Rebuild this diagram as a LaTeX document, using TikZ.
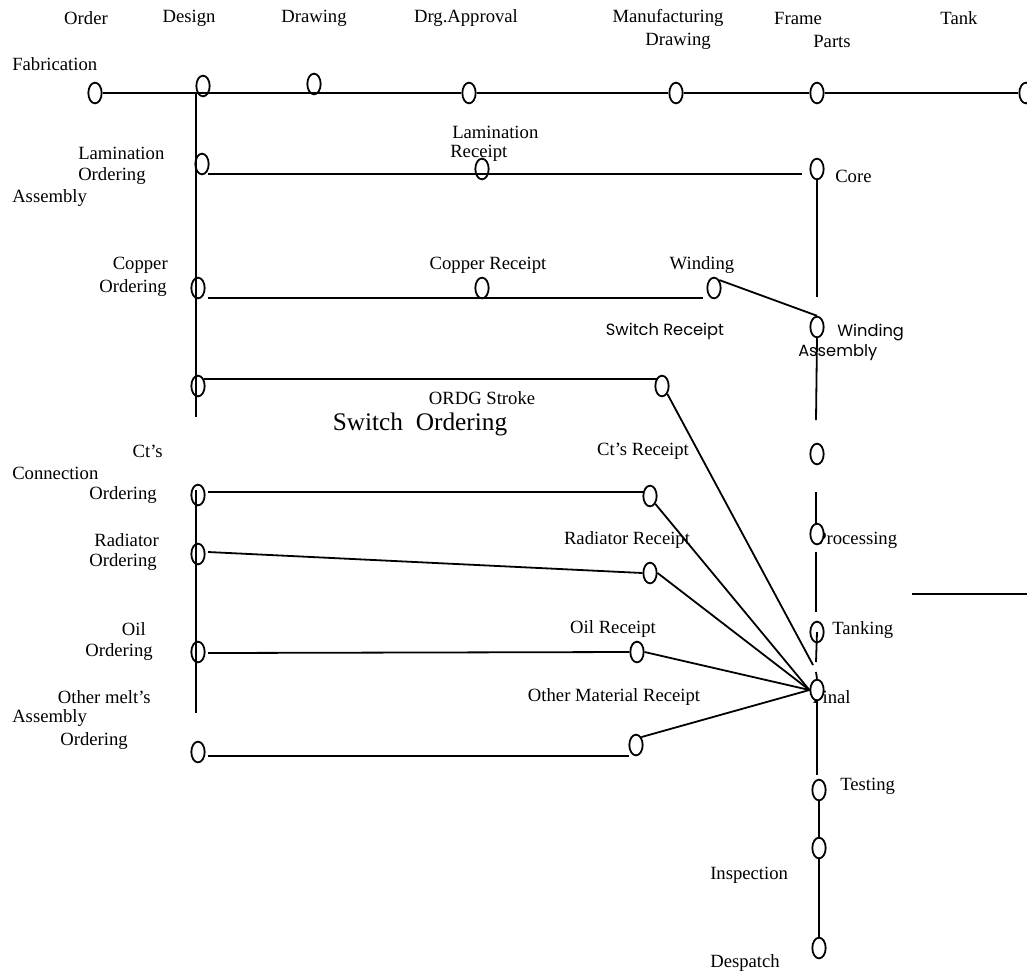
\documentclass[tikz,border=0pt]{standalone}
\usepackage{fontspec}
\setmainfont{Liberation Serif}
\newfontfamily\gothic{Poppins}
\usetikzlibrary{shapes.geometric}
\begin{document}
\begin{tikzpicture}[x=0.75pt,y=-0.75pt,
  ev/.style={ellipse,draw,line width=1.35pt,minimum width=10pt,minimum height=15.5pt,inner sep=0pt},
  evw/.style={ev,fill=white},
  ln/.style={line width=1.35pt},
  lbl/.style={inner sep=0pt,font=\fontsize{14}{16}\selectfont},
  big/.style={inner sep=0pt,font=\fontsize{19}{22}\selectfont},
  sns/.style={inner sep=0pt,font=\gothic\fontsize{12.2}{14}\selectfont}]
\useasboundingbox (0,0) rectangle (1027,972);

% ---------- labels ----------
\node[lbl] (tOrder) at (86,18) {Order};
\node[lbl] (tDesign) at (189,18) {Design};
\node[lbl] (tDrawing) at (314,18) {Drawing};
\node[lbl] (tDrg) at (466,18) {Drg.Approval};
\node[lbl] (tMfg1) at (668,18) {Manufacturing};
\node[lbl] (tMfg2) at (678,41) {Drawing};
\node[lbl] (tFrame) at (798,18) {Frame};
\node[lbl] (tParts) at (832,41) {Parts};
\node[lbl] (tTank) at (959,18) {Tank};
\node[lbl,anchor=west] (tFab) at (12,64) {Fabrication};
\node[lbl,anchor=west] (tLam1) at (78,153) {Lamination};
\node[lbl,anchor=west] (tLam2) at (78,176) {Ordering};
\node[lbl,anchor=west] (tAsm1) at (12,198) {Assembly};
\node[lbl,anchor=west] (tLR1) at (452,132) {Lamination};
\node[lbl,anchor=west] (tLR2) at (450,153) {Receipt};
\node[lbl,anchor=west] (tCore) at (835,176) {Core};
\node[lbl,anchor=east] (tCu1) at (168,265) {Copper};
\node[lbl,anchor=east] (tCu2) at (167,288) {Ordering};
\node[lbl] (tCuR) at (488,265) {Copper Receipt};
\node[lbl] (tWind) at (702,265) {Winding};
\node[sns] (tSwR) at (665,331) {Switch Receipt};
\node[sns,anchor=west] (tWA1) at (837,332) {Winding};
\node[sns,anchor=west] (tWA2) at (798,353) {Assembly};
\node[lbl] (tORDG) at (482,398) {ORDG Stroke};
\node[big] (tSwO) at (420,424) {Switch\ \ Ordering};
\node[lbl,anchor=east] (tCt1) at (163,451) {Ct’s};
\node[lbl,anchor=west] (tCt2) at (12,473) {Connection};
\node[lbl,anchor=east] (tCt3) at (157,495) {Ordering};
\node[lbl] (tCtR) at (643,451) {Ct’s Receipt};
\node[lbl,anchor=east] (tRad1) at (159,540) {Radiator};
\node[lbl,anchor=east] (tRad2) at (157,562) {Ordering};
\node[lbl] (tRadR) at (627,540) {Radiator Receipt};
\node[lbl,anchor=east] (tOil1) at (146,629) {Oil};
\node[lbl,anchor=east] (tOil2) at (153,652) {Ordering};
\node[lbl] (tOilR) at (613,629) {Oil Receipt};
\node[lbl,anchor=east] (tOth1) at (151,697) {Other melt’s};
\node[lbl,anchor=west] (tOth2) at (12,718) {Assembly};
\node[lbl,anchor=east] (tOth3) at (128,741) {Ordering};
\node[lbl] (tOthR) at (614,697) {Other Material Receipt};
\node[lbl,anchor=west] (tProc) at (816,540) {Processing};
\node[lbl,anchor=west] (tTankg) at (832,630) {Tanking};
\node[lbl,anchor=west] (tFinal) at (812,697) {Final};
\node[lbl,anchor=west] (tTest) at (840,786) {Testing};
\node[lbl,anchor=west] (tInsp) at (710,875) {Inspection};
\node[lbl,anchor=west] (tDesp) at (710,963) {Despatch};

% ---------- events ----------
\node[ev] (cOrder) at (95,93) {};
\node[ev] (cDesign) at (203,86) {};
\node[ev] (cDrawing) at (314,84) {};
\node[ev] (cDrg) at (469,93) {};
\node[ev] (cMfg) at (676,93) {};
\node[ev] (cFrame) at (817,93) {};
\node[ev] (cTank) at (1026,93) {};
\node[ev] (cLamO) at (202,164) {};
\node[ev] (cLamR) at (482,169) {};
\node[ev] (cCore) at (817,169) {};
\node[ev] (cCuO) at (198,288) {};
\node[ev] (cCuR) at (482,288) {};
\node[ev] (cWind) at (714,288) {};
\node[ev] (cWA) at (817,327) {};
\node[ev] (cSwO) at (198,386) {};
\node[ev] (cORDG) at (662,386) {};
\node[ev] (cMid) at (817,454) {};
\node[ev] (cCtO) at (198,495) {};
\node[ev] (cCtR) at (650,496) {};
\node[ev] (cRadO) at (198,554) {};
\node[ev] (cRadR) at (650,573) {};
\node[ev] (cOilO) at (198,652) {};
\node[ev] (cOilR) at (637,652) {};
\node[ev] (cOthO) at (198,752) {};
\node[ev] (cOthR) at (636,745) {};
\node[evw] (cProc) at (817,534) {};
\node[ev] (cTankg) at (817,632) {};
\node[evw] (cFinal) at (817,690) {};
\node[ev] (cTest) at (819,790) {};
\node[ev] (cInsp) at (819,848) {};
\node[ev] (cDesp) at (819,948) {};

% ---------- free ends ----------
\coordinate (v1a) at (196,94);
\coordinate (v1b) at (196,417);
\coordinate (v2a) at (196,490);
\coordinate (v2b) at (196,713);
\coordinate (lamL) at (208,174);
\coordinate (lamR) at (802,174);
\coordinate (coreB) at (817,297);
\coordinate (cuL) at (208,298);
\coordinate (cuR) at (703,298);
\coordinate (waB) at (816,420);
\coordinate (swL) at (204,379);
\coordinate (swR) at (657,379);
\coordinate (ordgE) at (813,665);
\coordinate (ctL) at (208,492);
\coordinate (ctR) at (643,492);
\coordinate (radL) at (208,552);
\coordinate (oilL) at (208,653);
\coordinate (othL) at (208,756);
\coordinate (othR) at (629,756);
\coordinate (pA) at (816,492);
\coordinate (pB) at (816,525);
\coordinate (pC) at (816,552);
\coordinate (pD) at (816,612);
\coordinate (tA) at (816,662);
\coordinate (fA) at (816,672);
\coordinate (fB) at (817,775);
\coordinate (hA) at (912,594);
\coordinate (hB) at (1027,594);

% ---------- connectors ----------
\draw[ln] (cOrder.east) -- (cDrg.west);
\draw[ln] (cDrg.east) -- (cMfg.west);
\draw[ln] (cMfg.east) -- (cFrame.west);
\draw[ln] (cFrame.east) -- (cTank.west);
\draw[ln] (v1a) -- (v1b);
\draw[ln] (v2a) -- (v2b);
\draw[ln] (lamL) -- (lamR);
\draw[ln] (cCore.south) -- (coreB);
\draw[ln] (cuL) -- (cuR);
\draw[ln] (cWind.north east) -- (cWA.north);
\draw[ln] (cWA.south) -- (waB);
\draw[ln] (swL) -- (swR);
\draw[ln] (cORDG.south east) -- (ordgE);
\draw[ln] (ctL) -- (ctR);
\draw[ln] (cCtR.south east) -- (cFinal.west);
\draw[ln] (radL) -- (cRadR.west);
\draw[ln] (cRadR.east) -- (cFinal.west);
\draw[ln] (oilL) -- (cOilR.west);
\draw[ln] (cOilR.east) -- (cFinal.west);
\draw[ln] (othL) -- (othR);
\draw[ln] (cOthR.north east) -- (cFinal.west);
\draw[ln] (pA) -- (pB);
\draw[ln] (pC) -- (pD);
\draw[ln] (cTankg.center) -- (tA);
\draw[ln] (fA) -- (cFinal.north);
\draw[ln] (cFinal.south) -- (fB);
\draw[ln] (cTest.south) -- (cInsp.north);
\draw[ln] (cInsp.south) -- (cDesp.north);
\draw[ln] (hA) -- (hB);
\end{tikzpicture}
\end{document}
